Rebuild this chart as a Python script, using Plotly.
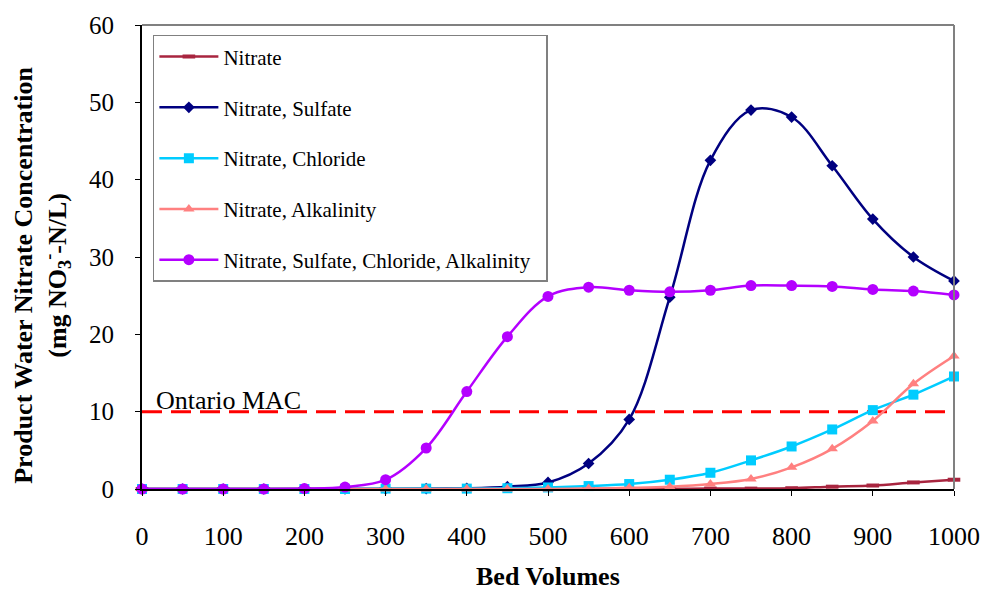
import plotly.graph_objects as go

bed_volumes = [0, 50, 100, 150, 200, 250, 300, 350, 400, 450, 500,
               550, 600, 650, 700, 750, 800, 850, 900, 950, 1000]
nitrate = [0, 0, 0, 0, 0, 0, 0, 0, 0, 0, 0,
           0, 0, 0.02, 0.05, 0.05, 0.1, 0.3, 0.45, 0.85, 1.2]
nitrate_sulfate = [0, 0, 0, 0, 0, 0, 0, 0.05, 0.1, 0.3, 0.85,
                   3.3, 9.0, 24.8, 42.5, 49.0, 48.1, 41.8, 34.9, 30.0, 26.9]
nitrate_chloride = [0, 0, 0, 0, 0, 0, 0.05, 0.05, 0.05, 0.1, 0.2,
                    0.38, 0.64, 1.2, 2.1, 3.7, 5.5, 7.7, 10.2, 12.2, 14.55]
nitrate_alkalinity = [0, 0, 0, 0, 0, 0, 0, 0, 0, 0, 0,
                      0.05, 0.15, 0.3, 0.64, 1.3, 2.8, 5.2, 8.8, 13.6, 17.2]
nitrate_all = [0, 0, 0, 0, 0.05, 0.25, 1.2, 5.3, 12.6, 19.7, 24.9,
               26.1, 25.7, 25.5, 25.7, 26.3, 26.3, 26.2, 25.8, 25.6, 25.1]
ontario_mac = 10

series_names = ["Nitrate", "Nitrate, Sulfate", "Nitrate, Chloride",
                "Nitrate, Alkalinity", "Nitrate, Sulfate, Chloride, Alkalinity\u00a0\u00a0"]
series_values = [nitrate, nitrate_sulfate, nitrate_chloride, nitrate_alkalinity, nitrate_all]
colors = ["#A8253F", "#000080", "#00CCFF", "#FF8080", "#B400FF"]
symbols = ["line-ew-open", "diamond", "square", "triangle-up", "circle"]
sizes = [9, 9, 10, 10, 11]

FONT = "Liberation Serif"

fig = go.Figure()

# Ontario MAC reference line
fig.add_trace(go.Scatter(
    x=[bed_volumes[0], bed_volumes[-1]], y=[ontario_mac, ontario_mac],
    mode="lines", line=dict(color="#FF0000", width=3, dash="20px,9px"),
    showlegend=False, hoverinfo="skip"))

for i, (name, vals, c, s, sz) in enumerate(zip(series_names, series_values, colors, symbols, sizes)):
    marker = dict(color=c, symbol=s, size=sz)
    if s == "line-ew-open":
        marker["line"] = dict(color=c, width=4)
    fig.add_trace(go.Scatter(
        x=bed_volumes, y=vals, name=name, mode="lines+markers",
        line=dict(color=c, width=2.5, shape="spline", smoothing=1.0),
        marker=marker, legendgroup=f"g{i}", cliponaxis=False))

fig.add_annotation(x=0, y=ontario_mac, xref="x", yref="y", text="Ontario MAC",
                   showarrow=False, xanchor="left", yanchor="bottom", xshift=12, yshift=-5,
                   font=dict(family=FONT, size=26, color="black"))

# axis titles
fig.add_annotation(x=0.5, y=-0.189, xref="paper", yref="paper",
                   text="<b>Bed Volumes</b>", showarrow=False,
                   xanchor="center", yanchor="middle",
                   font=dict(family=FONT, size=26, color="black"))
fig.add_annotation(x=0, y=(489 - 273) / 470, xref="paper", yref="paper",
                   text="<b>Product Water Nitrate Concentration<br>(mg NO<sub>3</sub><sup>-</sup>-N/L)</b>",
                   showarrow=False, textangle=-90, xanchor="center", yanchor="middle",
                   xshift=-100, font=dict(family=FONT, size=26, color="black"))

# gray top/right frame
fig.add_shape(type="line", xref="paper", yref="paper", x0=0, x1=1, y0=1, y1=1,
              line=dict(color="#808080", width=2))
fig.add_shape(type="line", xref="paper", yref="paper", x0=1, x1=1, y0=0, y1=1,
              line=dict(color="#808080", width=2))

fig.update_layout(
    width=992, height=592,
    margin=dict(l=142, r=30, t=19, b=103),
    paper_bgcolor="white", plot_bgcolor="white",
    font=dict(family=FONT, size=25, color="black"),
    legend=dict(x=0.0134, y=0.9787, xanchor="left", yanchor="top",
                bordercolor="#808080", borderwidth=1.5, bgcolor="white",
                font=dict(family=FONT, size=21, color="black"),
                tracegroupgap=20.5, itemwidth=59),
    xaxis=dict(range=[0, 1000], tickmode="linear", tick0=0, dtick=100,
               showgrid=False, zeroline=False, showline=True, linecolor="black", linewidth=2,
               ticks="outside", ticklen=5, tickcolor="black", ticklabelstandoff=18,
               tickfont=dict(family=FONT, size=26)),
    yaxis=dict(range=[0, 60], tickmode="linear", tick0=0, dtick=10,
               showgrid=False, zeroline=False, showline=True, linecolor="black", linewidth=2,
               ticks="outside", ticklen=5, tickcolor="black", ticklabelstandoff=16,
               tickfont=dict(family=FONT, size=25)),
)

fig.write_html("out.html")
